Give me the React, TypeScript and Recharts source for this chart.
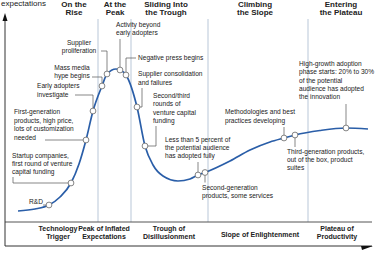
import React from 'react';
import { ComposedChart, Line, Scatter, XAxis, YAxis, ReferenceLine, ReferenceDot } from 'recharts';

// Hype curve: time (x) vs expectations (y)
const curveTime = [18, 35, 49, 60, 71, 79, 86, 93, 102, 107, 116, 120, 126, 137, 145, 153, 163, 178, 190, 198, 205, 230, 250, 270, 284, 295, 320, 346, 368];
const curveExpectation = [44, 46, 50, 58, 72, 91, 115, 144, 169, 181, 186, 185, 180, 148, 109, 90, 79, 74, 76, 80, 82.5, 94, 105, 113, 117, 120, 124.5, 127, 126];

// Annotated milestones on the curve
const noteIds = ['rd', 'startup', 'firstGen', 'earlyAdopters', 'massMedia', 'supplierProlif', 'activity', 'negativePress', 'consolidation', 'secondThird', 'lessThan5', 'secondGen', 'methodologies', 'thirdGen', 'highGrowth'];
const noteTime = [49, 71, 86, 93, 102, 107, 120, 126, 137, 145, 198, 205, 284, 295, 346];
const noteExpectation = [50, 72, 115, 144, 169, 181, 185, 180, 148, 109, 80, 82.5, 117, 120, 127];
const noteText = [
  ['R&D'],
  ['Startup companies,', 'first round of venture', 'capital funding'],
  ['First-generation', 'products, high price,', 'lots of customization', 'needed'],
  ['Early adopters', 'investigate'],
  ['Mass media', 'hype begins'],
  ['Supplier', 'proliferation'],
  ['Activity beyond', 'early adopters'],
  ['Negative press begins'],
  ['Supplier consolidation', 'and failures'],
  ['Second/third', 'rounds of', 'venture capital', 'funding'],
  ['Less than 5 percent of', 'the potential audience', 'has adopted fully'],
  ['Second-generation', 'products, some services'],
  ['Methodologies and best', 'practices developing'],
  ['Third-generation products,', 'out of the box, product', 'suites'],
  ['High-growth adoption', 'phase starts: 20% to 30%', 'of the potential', 'audience has adopted', 'the innovation'],
];

// Phases
const dividerTime = [98, 131, 208, 308];
const topPhaseTime = [74, 115, 166, 255, 341];
const topPhaseText = [['On the', 'Rise'], ['At the', 'Peak'], ['Sliding Into', 'the Trough'], ['Climbing', 'the Slope'], ['Entering', 'the Plateau']];
const stageTime = [58, 104, 169, 260, 337];
const stageText = [['Technology', 'Trigger'], ['Peak of Inflated', 'Expectations'], ['Trough of', 'Disillusionment'], ['Slope of Enlightenment'], ['Plateau of', 'Productivity']];

const curveData = curveTime.map((t, i) => ({ t, e: curveExpectation[i] }));
const noteData = noteIds.map((id, i) => ({ id, t: noteTime[i], e: noteExpectation[i], lines: noteText[i] }));

// layout of labels relative to their points (pixels)
type Lay = { dx: number; dy: number; lh: number; anchor: 'start' | 'middle' | 'end'; path: number[][] };
const noteLayout: Record<string, Lay> = {
  rd: { dx: -6, dy: -1, lh: 8, anchor: 'end', path: [[0, 0], [-6, 0]] },
  startup: { dx: -59, dy: -25, lh: 8, anchor: 'start', path: [[0, 0], [-58, 0], [-58, -6]] },
  firstGen: { dx: -72, dy: -26, lh: 8.6, anchor: 'start', path: [[0, 0], [-41, 0]] },
  earlyAdopters: { dx: -56, dy: -23, lh: 9, anchor: 'start', path: [[0, 0], [0, -16], [-18, -16]] },
  massMedia: { dx: -30, dy: -16, lh: 8, anchor: 'middle', path: [[0, 0], [0, -9], [-10, -9]] },
  supplierProlif: { dx: -28, dy: -29, lh: 8, anchor: 'middle', path: [[0, 0], [0, -23], [-6, -23]] },
  activity: { dx: -4, dy: -43, lh: 8, anchor: 'start', path: [[0, 0], [0, -31]] },
  negativePress: { dx: 12, dy: -15, lh: 8, anchor: 'start', path: [[0, 0], [0, -17], [10, -17]] },
  consolidation: { dx: 1, dy: -31, lh: 8.5, anchor: 'start', path: [[0, 0], [5, 0], [5, -19]] },
  secondThird: { dx: 8, dy: -48, lh: 8.3, anchor: 'start', path: [[0, 0], [11, 0], [11, -20]] },
  lessThan5: { dx: -33, dy: -33, lh: 8, anchor: 'start', path: [[0, 0], [0, -13]] },
  secondGen: { dx: -3, dy: 17, lh: 8.5, anchor: 'start', path: [[0, 0], [0, 10]] },
  methodologies: { dx: -59, dy: -24, lh: 8.5, anchor: 'start', path: [[0, 0], [0, -11]] },
  thirdGen: { dx: -8, dy: 19, lh: 8, anchor: 'start', path: [[0, 0], [0, 12]] },
  highGrowth: { dx: -47, dy: -62, lh: 8.25, anchor: 'start', path: [[0, 0], [0, -24]] },
};

const FONT = '"Liberation Sans", Arial, sans-serif';

const NoteShape = (props: any) => {
  const { cx, cy, payload } = props;
  const lay = noteLayout[payload.id];
  const pts = lay.path.map(([dx, dy]) => `${cx + dx},${cy + dy}`).join(' ');
  return (
    <g>
      <polyline points={pts} fill="none" stroke="#555" strokeWidth={0.7} />
      <text fontFamily={FONT} fontSize={6.6} fill="#222" textAnchor={lay.anchor}>
        {payload.lines.map((l: string, i: number) => (
          <tspan key={i} x={cx + lay.dx} y={cy + lay.dy + i * lay.lh}>{l}</tspan>
        ))}
      </text>
      <circle cx={cx} cy={cy} r={2.9} fill="#fff" stroke="#666" strokeWidth={0.8} />
    </g>
  );
};

const makeTitle = (lines: string[], size: number, lh: number) => (p: any) => (
  <text fontFamily={FONT} fontSize={size} fontWeight="bold" fill="#222" textAnchor="middle">
    {lines.map((l, i) => (
      <tspan key={i} x={p.cx} y={p.cy + i * lh}>{l}</tspan>
    ))}
  </text>
);

export default function App() {
  return (
    <div style={{ position: 'absolute', left: 0, top: 0, width: 382, height: 255, background: '#fff' }}>
      <ComposedChart width={382} height={255} margin={{ top: 0, right: 0, bottom: 0, left: 0 }}>
        <XAxis type="number" dataKey="t" domain={[0, 382]} hide allowDataOverflow />
        <YAxis type="number" dataKey="e" domain={[0, 255]} hide allowDataOverflow />
        {dividerTime.map((x) => (
          <ReferenceLine key={x} segment={[{ x, y: 236 }, { x, y: 33 }]} stroke="#b9c7d8" strokeWidth={1} />
        ))}
        <ReferenceLine segment={[{ x: 5, y: 33 }, { x: 372, y: 33 }]} stroke="#555" strokeWidth={1} />
        <ReferenceLine segment={[{ x: 5, y: 9 }, { x: 372, y: 9 }]} stroke="#333" strokeWidth={1} />
        <ReferenceLine segment={[{ x: 5, y: 9 }, { x: 5, y: 236 }]} stroke="#333" strokeWidth={1} />
        <ReferenceDot x={5} y={242} r={0} isFront shape={(p: any) => (
          <polygon points={`${p.cx},${p.cy} ${p.cx - 2.5},${p.cy + 8} ${p.cx + 2.5},${p.cy + 8}`} fill="#111" />
        )} />
        <ReferenceDot x={372} y={9} r={0} isFront shape={(p: any) => (
          <polygon points={`${p.cx - 11},${p.cy} ${p.cx + 1},${p.cy} ${p.cx - 10},${p.cy + 4}`} fill="#111" />
        )} />
        <ReferenceDot x={1} y={249} r={0} shape={(p: any) => (
          <text x={p.cx} y={p.cy} fontFamily={FONT} fontSize={8} fill="#222">expectations</text>
        )} />
        {topPhaseTime.map((x, i) => (
          <ReferenceDot key={'tp' + i} x={x} y={248.5} r={0} shape={makeTitle(topPhaseText[i], 8, 8.5)} />
        ))}
        {stageTime.map((x, i) => (
          <ReferenceDot key={'st' + i} x={x} y={stageText[i].length > 1 ? 24 : 18} r={0} shape={makeTitle(stageText[i], 7, 7.8)} />
        ))}
        <Line data={curveData} dataKey="e" type="monotone" stroke="#2a5ea8" strokeWidth={1.7} dot={false} activeDot={false} isAnimationActive={false} />
        <Scatter data={noteData} dataKey="e" shape={NoteShape} isAnimationActive={false} />
      </ComposedChart>
    </div>
  );
}
